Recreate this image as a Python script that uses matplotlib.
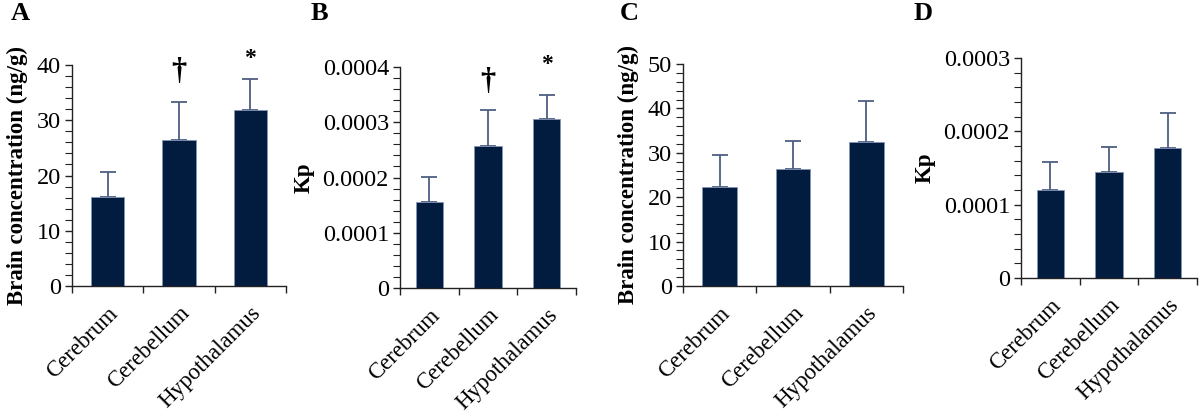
import matplotlib
matplotlib.use("Agg")
import matplotlib.pyplot as plt
from matplotlib.ticker import MultipleLocator, FixedLocator, NullFormatter

plt.rcParams['font.family'] = ['Liberation Serif', 'DejaVu Serif']

categories = ["Cerebrum", "Cerebellum", "Hypothalamus"]

a_vals = [16.1, 26.4, 31.8]
a_err = [4.5, 6.9, 5.6]
b_vals = [0.000156, 0.000257, 0.000306]
b_err = [0.000045, 0.000065, 0.000044]
c_vals = [22.3, 26.4, 32.4]
c_err = [7.2, 6.3, 9.3]
d_vals = [0.000120, 0.000145, 0.000177]
d_err = [0.000038, 0.000034, 0.000048]

a_marks = ["", "\u2020", "*"]
b_marks = ["", "\u2020", "*"]

W, H = 1200, 412
fig = plt.figure(figsize=(W / 100, H / 100), dpi=100)

BAR = "#021c40"
EDGE = "#8595b5"
ERR = "#4f5f82"

panels = [
    dict(letter="A", vals=a_vals, err=a_err, box=(72, 65, 286, 286), ymax=40, major=10, minor=2,
         ylabel="Brain concentration (ng/g)", fmt=lambda v: f"{v:g}", marks=a_marks, lx=11,
         mark_y={"\u2020": 38.8, "*": 41.2}),
    dict(letter="B", vals=b_vals, err=b_err, box=(400, 67, 576, 288), ymax=0.0004, major=0.0001, minor=0.00002,
         ylabel="Kp", fmt=lambda v: "0" if v == 0 else f"{v:.4f}", marks=b_marks, lx=311,
         mark_y={"\u2020": 0.000373, "*": 0.000405}),
    dict(letter="C", vals=c_vals, err=c_err, box=(683, 64, 903, 286), ymax=50, major=10, minor=2,
         ylabel="Brain concentration (ng/g)", fmt=lambda v: f"{v:g}", marks=None, lx=620),
    dict(letter="D", vals=d_vals, err=d_err, box=(1021, 58, 1197, 278), ymax=0.0003, major=0.0001, minor=0.00002,
         ylabel="Kp", fmt=lambda v: "0" if v == 0 else f"{v:.4f}", marks=None, lx=914),
]

for p in panels:
    x0, ytop, x1, ybot = p["box"]
    ax = fig.add_axes([x0 / W, (H - ybot) / H, (x1 - x0) / W, (ybot - ytop) / H])
    xs = list(range(len(categories)))
    ax.bar(xs, p["vals"], width=0.47, color=BAR, edgecolor=EDGE, linewidth=0.6, zorder=2)
    ax.errorbar(xs, p["vals"], yerr=[[0] * 3, p["err"]], fmt="none", ecolor=ERR,
                elinewidth=1.3, capsize=5.5, capthick=1.3, zorder=1)
    ax.set_xlim(-0.5, 2.5)
    ax.set_ylim(0, p["ymax"])
    for s in ["top", "right"]:
        ax.spines[s].set_visible(False)
    for s in ["left", "bottom"]:
        ax.spines[s].set_linewidth(1.0)
        ax.spines[s].set_color("#222222")
    ax.yaxis.set_major_locator(MultipleLocator(p["major"]))
    ax.yaxis.set_minor_locator(MultipleLocator(p["minor"]))
    ticks = ax.get_yticks()
    ax.set_yticks([t for t in ticks if -1e-12 <= t <= p["ymax"] * 1.0001])
    ax.set_yticklabels([p["fmt"](round(t, 6)) for t in ax.get_yticks()])
    ax.tick_params(axis="y", which="major", direction="out", length=5, width=1.0, labelsize=17.5, pad=3, color="#222222")
    ax.tick_params(axis="y", which="minor", direction="out", length=5, width=0.8, color="#222222")
    ax.xaxis.set_major_locator(FixedLocator([-0.5, 0.5, 1.5, 2.5]))
    ax.xaxis.set_major_formatter(NullFormatter())
    ax.xaxis.set_minor_locator(FixedLocator(xs))
    ax.set_xticklabels(categories, minor=True, rotation=45, ha="right", rotation_mode="anchor", fontsize=16.5)
    ax.tick_params(axis="x", which="major", direction="out", length=5, width=1.0, color="#222222")
    ax.tick_params(axis="x", which="minor", length=0, pad=12)
    ax.set_ylabel(p["ylabel"], fontsize=16.5, fontweight="bold", labelpad=6)
    if p["marks"]:
        for i, m in enumerate(p["marks"]):
            if m:
                ax.text(i, p["mark_y"][m], m, ha="center", va="center", fontsize=17 if m == "*" else 22,
                        fontweight="bold", clip_on=False)
    fig.text(p["lx"] / W, 1 - 2 / H, p["letter"], fontsize=19, fontweight="bold", ha="left", va="top")

fig.savefig("out.png", dpi=100)
